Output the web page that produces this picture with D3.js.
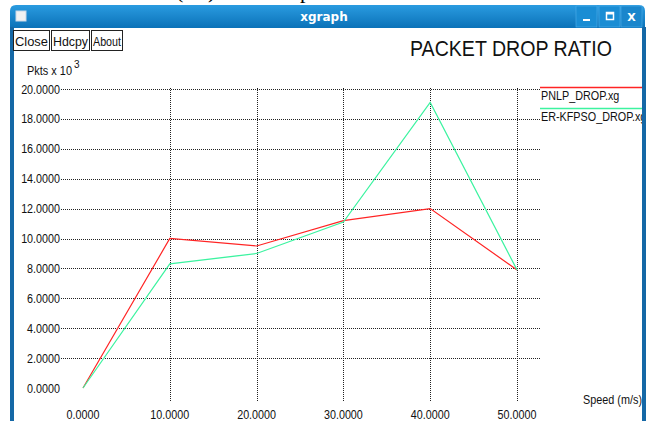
<!DOCTYPE html>
<html><head><meta charset="utf-8">
<script src="https://cdn.jsdelivr.net/npm/d3@7"></script>
<style>html,body{margin:0;padding:0;background:#fff;overflow:hidden}svg{display:block}</style>
</head><body>
<script>
// ---- data ----
const speeds = [0, 10, 20, 30, 40, 50];
const pnlpDrop = [0, 10.0, 9.5, 11.2, 12.0, 7.9];
const erkfpsoDrop = [0, 8.3, 9.0, 11.1, 19.1, 7.9];
const seriesNames = ["PNLP_DROP.xg", "ER-KFPSO_DROP.xg"];
const yTicks = [0, 2, 4, 6, 8, 10, 12, 14, 16, 18, 20];
const xTicks = [0, 10, 20, 30, 40, 50];

const W = 649, H = 421;
const svg = d3.select("body").append("svg").attr("width", W).attr("height", H);
const FONT = "'Liberation Sans', Arial, sans-serif";

function squeeze(sel, k) {
  sel.each(function () {
    const l = this.getComputedTextLength();
    d3.select(this).attr("textLength", l * k).attr("lengthAdjust", "spacingAndGlyphs");
  });
  return sel;
}

// stray caption fragments from the page above the screenshot
const SERIF = "'Liberation Serif', serif";
svg.append("text").attr("x", 176).attr("y", -2).attr("font-family", SERIF).attr("font-size", 22).text("(");
svg.append("text").attr("x", 208).attr("y", -2).attr("font-family", SERIF).attr("font-size", 22).text(")");
svg.append("text").attr("x", 300).attr("y", -2).attr("font-family", SERIF).attr("font-size", 22).text("p");

// ---- window chrome ----
const defs = svg.append("defs");
const g1 = defs.append("linearGradient").attr("id", "tb").attr("x1", 0).attr("y1", 0).attr("x2", 0).attr("y2", 1);
g1.append("stop").attr("offset", "0").attr("stop-color", "#2a9be0");
g1.append("stop").attr("offset", "1").attr("stop-color", "#0b72b8");
svg.append("path")
  .attr("d", "M10,28 L10,11 Q10,5 16,5 L639,5 Q645,5 645,11 L645,28 Z")
  .attr("fill", "url(#tb)");
svg.append("rect").attr("x", 10).attr("y", 27).attr("width", 4).attr("height", H - 27).attr("fill", "#1568a6");
svg.append("rect").attr("x", 642).attr("y", 27).attr("width", 4).attr("height", H - 27).attr("fill", "#1568a6");
svg.append("rect").attr("x", 14).attr("y", 28).attr("width", 628).attr("height", H - 28).attr("fill", "#fff");
// window icon
svg.append("rect").attr("x", 16).attr("y", 11).attr("width", 10).attr("height", 10).attr("fill", "#f2f2f2").attr("stroke", "#c8d8e8");
svg.append("text").attr("x", 324).attr("y", 21).attr("text-anchor", "middle").attr("fill", "#fff")
  .attr("font-family", "'DejaVu Sans', sans-serif").attr("font-weight", "bold").attr("font-size", 12).text("xgraph");
// title buttons
[576, 599, 621].forEach((bx, i) => {
  svg.append("rect").attr("x", bx).attr("y", 6).attr("width", 21).attr("height", 21).attr("fill", i === 2 ? "#1a86cc" : "#1a8dd4").attr("stroke", "#4fb0ea").attr("stroke-width", 0.6);
});
svg.append("rect").attr("x", 583).attr("y", 19).attr("width", 7).attr("height", 2).attr("fill", "#fff");
svg.append("rect").attr("x", 606.5).attr("y", 12.5).attr("width", 7).attr("height", 7).attr("fill", "none").attr("stroke", "#fff").attr("stroke-width", 1.5);
svg.append("rect").attr("x", 606).attr("y", 12).attr("width", 8).attr("height", 2.5).attr("fill", "#fff");
svg.append("text").attr("x", 631.5).attr("y", 21).attr("text-anchor", "middle").attr("fill", "#fff")
  .attr("font-family", "'DejaVu Sans', sans-serif").attr("font-weight", "bold").attr("font-size", 11).text("X");

// xgraph buttons
const btns = [["Close", 13, 36], ["Hdcpy", 51, 38], ["About", 91, 31]];
btns.forEach(([t, bx, bw]) => {
  svg.append("rect").attr("x", bx + 0.5).attr("y", 30.5).attr("width", bw).attr("height", 20).attr("fill", "#fff").attr("stroke", "#222").attr("stroke-width", 1);
  svg.append("text").attr("x", bx + 2).attr("y", 45.5).attr("font-family", FONT).attr("font-size", 13.5).attr("fill", "#111")
    .attr("textLength", bw - 3).attr("lengthAdjust", "spacingAndGlyphs").text(t);
});

// title
svg.append("text").attr("x", 410).attr("y", 56).attr("font-family", FONT).attr("font-size", 22).attr("fill", "#111")
  .attr("textLength", 202).attr("lengthAdjust", "spacingAndGlyphs").text("PACKET DROP RATIO");

// y axis unit
svg.append("text").attr("x", 27).attr("y", 75).attr("font-family", FONT).attr("font-size", 12.5).attr("fill", "#111")
  .attr("textLength", 45).attr("lengthAdjust", "spacingAndGlyphs").text("Pkts x 10");
svg.append("text").attr("x", 74).attr("y", 68).attr("font-family", FONT).attr("font-size", 10).attr("fill", "#111").text("3");

// ---- scales ----
const x = d3.scaleLinear().domain([0, 50]).range([83, 517]);
const y = d3.scaleLinear().domain([0, 20]).range([388, 89]);

// grid
const grid = svg.append("g").attr("stroke", "#222").attr("stroke-width", 1).attr("stroke-dasharray", "1 1").attr("shape-rendering", "crispEdges");
grid.selectAll("line.h").data(yTicks.filter(d => d > 0)).join("line")
  .attr("x1", 61).attr("x2", 540)
  .attr("y1", d => Math.round(y(d)) + 0.5).attr("y2", d => Math.round(y(d)) + 0.5);
grid.selectAll("line.v").data(xTicks.filter(d => d > 0)).join("line")
  .attr("y1", 88).attr("y2", 402)
  .attr("x1", d => Math.round(x(d)) + 0.5).attr("x2", d => Math.round(x(d)) + 0.5);

const fmt = d3.format(".4f");
// y tick labels
svg.append("g").selectAll("text").data(yTicks).join("text")
  .attr("x", 60).attr("y", d => y(d) + 4.5).attr("text-anchor", "end")
  .attr("font-family", FONT).attr("font-size", 12.5).attr("fill", "#111")
  .text(d => fmt(d)).call(squeeze, 0.86);
// x tick labels
svg.append("g").selectAll("text").data(xTicks).join("text")
  .attr("x", d => x(d)).attr("y", 419).attr("text-anchor", "middle")
  .attr("font-family", FONT).attr("font-size", 12.5).attr("fill", "#111")
  .text(d => fmt(d)).call(squeeze, 0.86);

svg.append("text").attr("x", 583).attr("y", 404).attr("font-family", FONT).attr("font-size", 12.5).attr("fill", "#111")
  .attr("textLength", 59).attr("lengthAdjust", "spacingAndGlyphs").text("Speed (m/s)");

// ---- series ----
const colors = ["#ff2424", "#3cf3a0"];
const seriesData = [pnlpDrop, erkfpsoDrop];
const line = d3.line().x(d => x(d[0])).y(d => y(d[1]));
seriesData.forEach((vals, i) => {
  svg.append("path").datum(speeds.map((s, j) => [s, vals[j]]))
    .attr("d", line).attr("fill", "none").attr("stroke", colors[i]).attr("stroke-width", 1.2);
});

// legend
const clip = defs.append("clipPath").attr("id", "win");
clip.append("rect").attr("x", 14).attr("y", 28).attr("width", 628).attr("height", H - 28);
const leg = svg.append("g").attr("clip-path", "url(#win)");
seriesNames.forEach((n, i) => {
  const ly = 87 + i * 21;
  leg.append("line").attr("x1", 540).attr("x2", 642).attr("y1", ly + 0.5).attr("y2", ly + 0.5).attr("stroke", colors[i]).attr("stroke-width", 1.5);
  squeeze(leg.append("text").attr("x", 541).attr("y", ly + 13).attr("font-family", FONT).attr("font-size", 13).attr("fill", "#111").text(n), 0.83);
});
</script>
</body></html>
